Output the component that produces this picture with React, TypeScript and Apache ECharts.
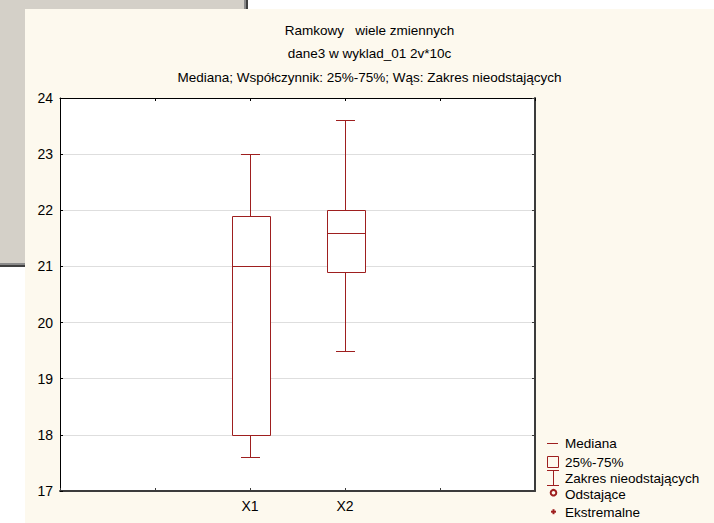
import React, { useEffect, useRef } from "react";
import * as echarts from "echarts";

const titleLines = [
  "Ramkowy   wiele zmiennych",
  "dane3 w wyklad_01 2v*10c",
  "Mediana; Współczynnik: 25%-75%; Wąs: Zakres nieodstających",
];
const xSlots = ["", "", "X1", "X2", "", ""];
const variables = ["X1", "X2"];
const whiskerLow = [17.6, 19.5];
const quartile1 = [18.0, 20.9];
const medians = [21.0, 21.6];
const quartile3 = [21.9, 22.0];
const whiskerHigh = [23.0, 23.6];
const yMin = 17;
const yMax = 24;
const yStep = 1;
const legendLabels = ["Mediana", "25%-75%", "Zakres nieodstających", "Odstające", "Ekstremalne"];

const RED = "#9e1f1f";
const FONT = '"Liberation Sans", Arial, sans-serif';

export default function App() {
  const ref = useRef<HTMLDivElement>(null);
  useEffect(() => {
    if (!ref.current) return;
    const chart = echarts.init(ref.current, null, { renderer: "svg" });
    const data = variables.map((v, i) => [
      xSlots.indexOf(v),
      whiskerLow[i],
      quartile1[i],
      medians[i],
      quartile3[i],
      whiskerHigh[i],
    ]);
    const r = (v: number) => Math.round(v) + 0.5;

    const legendY = [443.5, 462, 478, 494.5, 512];
    const legendIcons: any[] = [
      { type: "line", shape: { x1: 547, y1: 443.5, x2: 558, y2: 443.5 }, style: { stroke: RED, lineWidth: 1 } },
      { type: "rect", shape: { x: 547.5, y: 456.5, width: 11, height: 11 }, style: { stroke: RED, fill: "none", lineWidth: 1 } },
      { type: "line", shape: { x1: 547, y1: 470.5, x2: 559, y2: 470.5 }, style: { stroke: RED, lineWidth: 1 } },
      { type: "line", shape: { x1: 553.5, y1: 470.5, x2: 553.5, y2: 485.5 }, style: { stroke: RED, lineWidth: 1 } },
      { type: "line", shape: { x1: 547, y1: 485.5, x2: 559, y2: 485.5 }, style: { stroke: RED, lineWidth: 1 } },
      { type: "circle", shape: { cx: 553.5, cy: 492.7, r: 2.8 }, style: { stroke: RED, fill: "none", lineWidth: 2 } },
      { type: "line", shape: { x1: 551, y1: 511.7, x2: 556, y2: 511.7 }, style: { stroke: RED, lineWidth: 2 } },
      { type: "line", shape: { x1: 553.5, y1: 509.2, x2: 553.5, y2: 514.2 }, style: { stroke: RED, lineWidth: 2 } },
    ];

    const option: any = {
      animation: false,
      backgroundColor: "#ffffff",
      graphic: [
        { type: "rect", z: -10, silent: true, shape: { x: 0, y: 0, width: 244, height: 263 }, style: { fill: "#d4d0c8" } },
        { type: "rect", z: -10, silent: true, shape: { x: 244, y: 0, width: 2, height: 265 }, style: { fill: "#8a8a8a" } },
        { type: "rect", z: -10, silent: true, shape: { x: 246, y: 0, width: 2, height: 267 }, style: { fill: "#404040" } },
        { type: "rect", z: -10, silent: true, shape: { x: 0, y: 263, width: 246, height: 2 }, style: { fill: "#8a8a8a" } },
        { type: "rect", z: -10, silent: true, shape: { x: 0, y: 265, width: 248, height: 2 }, style: { fill: "#404040" } },
        { type: "rect", z: -9, silent: true, shape: { x: 25, y: 9, width: 689, height: 514 }, style: { fill: "#fdf9ee" } },
        ...titleLines.map((t, i) => ({
          type: "text",
          z: 10,
          x: 369.5,
          y: [30.5, 53.5, 77.5][i],
          style: { text: t, font: `13.5px ${FONT}`, fill: "#000", textAlign: "center", textVerticalAlign: "middle" },
        })),
        ...legendIcons.map((g) => ({ ...g, z: 10, silent: true })),
        ...legendLabels.map((t, i) => ({
          type: "text",
          z: 10,
          x: 565,
          y: legendY[i],
          style: { text: t, font: `13.5px ${FONT}`, fill: "#000", textAlign: "left", textVerticalAlign: "middle" },
        })),
      ],
      grid: {
        left: 60,
        top: 98,
        width: 475,
        height: 393,
        show: true,
        backgroundColor: "#ffffff",
        borderWidth: 0,
      },
      xAxis: [
        {
          type: "value",
          min: 0,
          max: xSlots.length - 1,
          interval: 1,
          position: "bottom",
          splitLine: { show: false },
          axisLine: { show: true, onZero: false, lineStyle: { color: "#3c3c3c", width: 2 } },
          axisTick: { show: true, inside: true, length: 3, lineStyle: { color: "#3c3c3c" } },
          axisLabel: {
            margin: 8,
            fontSize: 14,
            fontFamily: FONT,
            color: "#000",
            formatter: (v: number) => xSlots[Math.round(v)] ?? "",
          },
        },
        {
          type: "value",
          min: 0,
          max: xSlots.length - 1,
          interval: 1,
          position: "top",
          splitLine: { show: false },
          axisLine: { show: true, onZero: false, lineStyle: { color: "#000", width: 1 } },
          axisTick: { show: true, inside: true, length: 3, lineStyle: { color: "#000" } },
          axisLabel: { show: false },
        },
      ],
      yAxis: [
        {
          type: "value",
          min: yMin,
          max: yMax,
          interval: yStep,
          position: "left",
          splitLine: { show: true, lineStyle: { color: "#dedede", width: 1 } },
          axisLine: { show: true, onZero: false, lineStyle: { color: "#000", width: 1 } },
          axisTick: { show: true, inside: true, length: 3, lineStyle: { color: "#000" } },
          axisLabel: { margin: 7, fontSize: 14, fontFamily: FONT, color: "#000" },
        },
        {
          type: "value",
          min: yMin,
          max: yMax,
          interval: yStep,
          position: "right",
          splitLine: { show: false },
          axisLine: { show: true, onZero: false, lineStyle: { color: "#3c3c3c", width: 2 } },
          axisTick: { show: true, inside: true, length: 3, lineStyle: { color: "#3c3c3c" } },
          axisLabel: { show: false },
        },
      ],
      series: [
        {
          type: "custom",
          xAxisIndex: 0,
          yAxisIndex: 0,
          encode: { x: 0, y: [1, 2, 3, 4, 5] },
          data,
          renderItem: (params: any, api: any) => {
            const x = api.value(0);
            const lo = api.coord([x, api.value(1)]);
            const b1 = api.coord([x, api.value(2)]);
            const md = api.coord([x, api.value(3)]);
            const b3 = api.coord([x, api.value(4)]);
            const hi = api.coord([x, api.value(5)]);
            const band = api.size([1, 0])[0];
            const half = (band * 0.4) / 2;
            const cap = half / 2;
            const cx = r(lo[0]);
            const ln = (x1: number, y1: number, x2: number, y2: number) => ({
              type: "line",
              shape: { x1, y1, x2, y2 },
              style: { stroke: RED, lineWidth: 1 },
            });
            return {
              type: "group",
              children: [
                ln(cx, r(hi[1]), cx, r(b3[1])),
                ln(cx, r(b1[1]), cx, r(lo[1])),
                ln(cx - cap, r(hi[1]), cx + cap, r(hi[1])),
                ln(cx - cap, r(lo[1]), cx + cap, r(lo[1])),
                {
                  type: "rect",
                  shape: { x: r(cx - half), y: r(b3[1]), width: Math.round(half * 2), height: Math.round(b1[1] - b3[1]) },
                  style: { stroke: RED, fill: "#fff", lineWidth: 1 },
                },
                ln(r(cx - half), r(md[1]), r(cx - half) + Math.round(half * 2), r(md[1])),
              ],
            };
          },
        },
      ],
    };
    chart.setOption(option);
    return () => chart.dispose();
  }, []);
  return (
    <div
      ref={ref}
      style={{ position: "absolute", left: 0, top: 0, width: 714, height: 523 }}
    />
  );
}
